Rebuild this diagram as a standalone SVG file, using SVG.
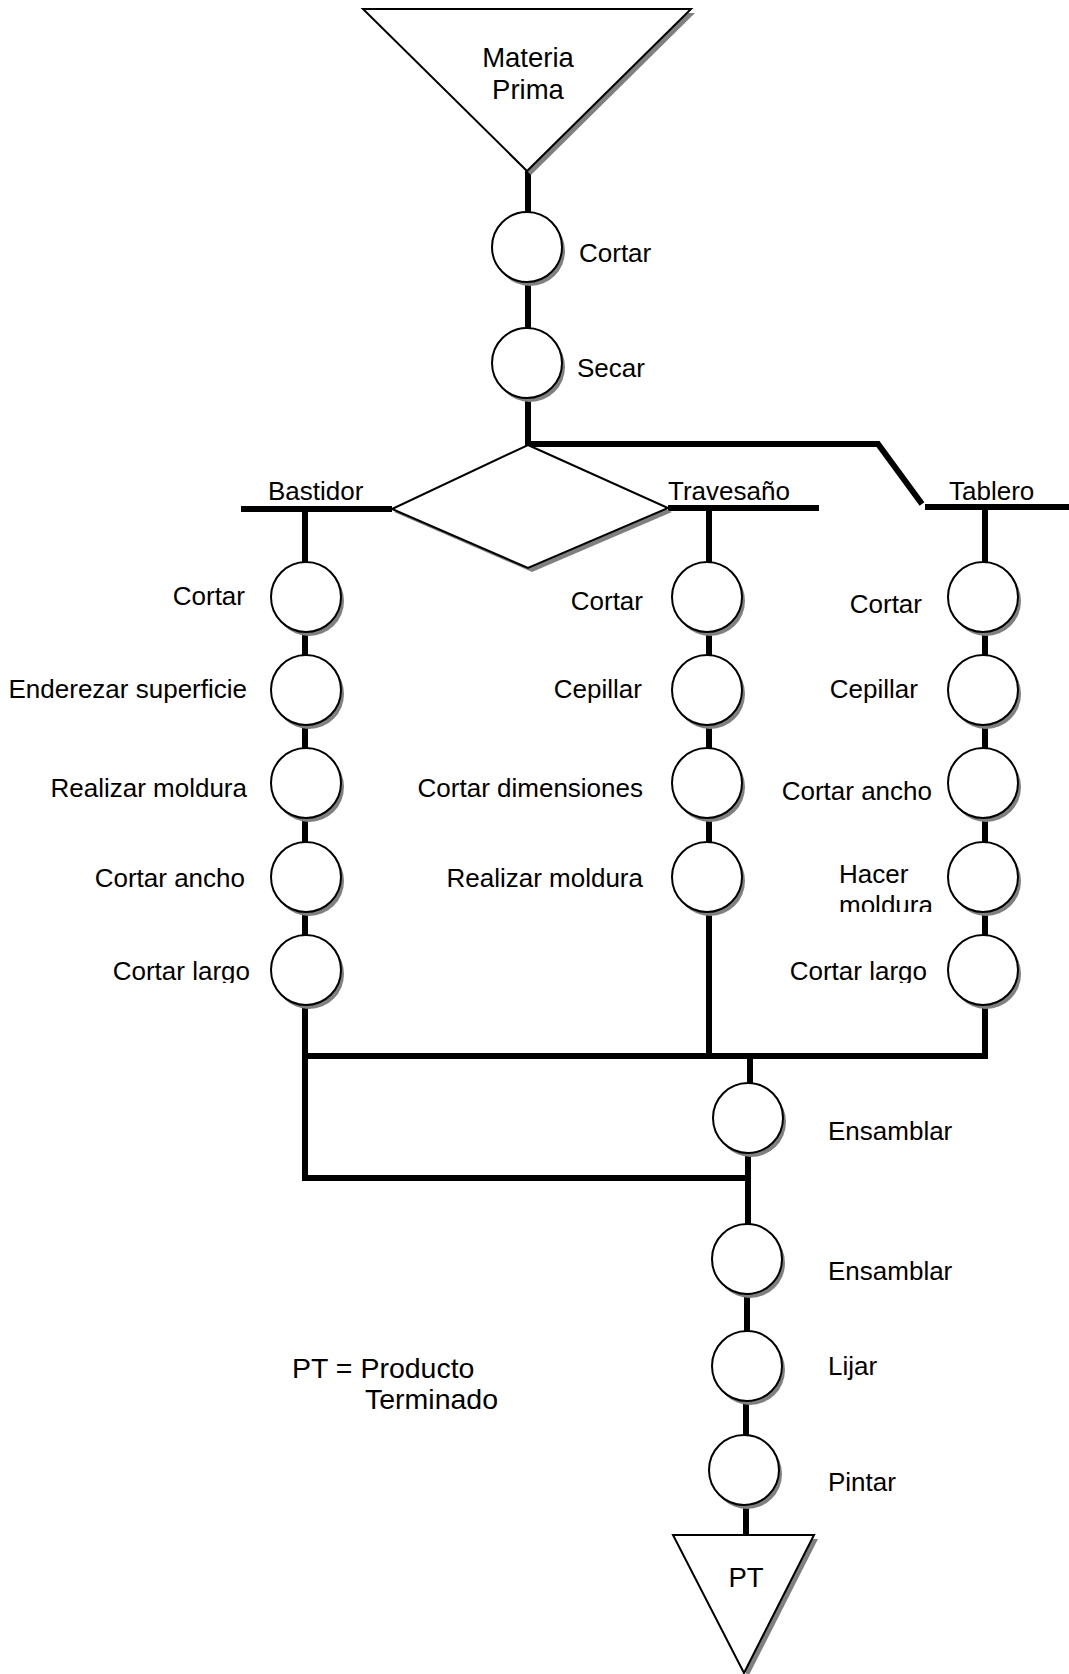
<svg xmlns="http://www.w3.org/2000/svg" width="1069" height="1674" viewBox="0 0 1069 1674">
<style>
  text { font-family: "Liberation Sans", Arial, sans-serif; font-size: 26px; fill: #000; }
  .big { font-size: 27.5px; }
  .leg { font-size: 28.5px; }
  .conn { fill: none; stroke: #000; stroke-width: 6; stroke-linejoin: miter; }
  .shape { fill: #fff; stroke: #000; stroke-width: 2; }
  .shadow { fill: #808080; stroke: none; }
  .end { text-anchor: end; }
  .mid { text-anchor: middle; }
</style>
<defs>
  <g id="op">
    <circle class="shadow" cx="3" cy="4" r="35"/>
    <circle class="shape" cx="0" cy="0" r="35"/>
  </g>
  <clipPath id="clipA"><rect x="0" y="0" width="1069" height="983"/></clipPath>
  <clipPath id="clipB"><rect x="0" y="0" width="1069" height="912"/></clipPath>
</defs>
<rect width="1069" height="1674" fill="#fff"/>

<g id="connectors">
  <path class="conn" d="M528,171 V212 M528,281 V328 M528,397 V444 H878 L922,504"/>
  <path class="conn" d="M925,507 H1069"/>
  <path class="conn" d="M241,509 H392"/>
  <path class="conn" d="M668,508 H819"/>
  <path class="conn" d="M305,509 V562 M305,632 V655 M305,725 V748 M305,818 V842 M305,912 V935"/>
  <path class="conn" d="M709,508 V562 M709,632 V655 M709,725 V748 M709,818 V842 M709,912 V1056"/>
  <path class="conn" d="M985,507 V562 M985,632 V655 M985,725 V748 M985,818 V842 M985,912 V935"/>
  <path class="conn" d="M985,1005 V1056 H305 V1178 H748"/>
  <path class="conn" d="M305,1005 V1056"/>
  <path class="conn" d="M750,1053 V1083 M748,1153 V1224 M747,1294 V1331 M746,1401 V1435 M746,1505 V1535"/>
</g>

<g id="materia-prima">
  <polygon class="shadow" points="367,13 695,13 531,175"/>
  <polygon class="shape" points="363,9 691,9 527,171"/>
  <text class="big mid" x="528" y="67">Materia</text>
  <text class="big mid" x="528" y="99">Prima</text>
</g>

<g id="op-cortar"><use href="#op" x="527" y="247"/><text x="579" y="262">Cortar</text></g>
<g id="op-secar"><use href="#op" x="527" y="363"/><text x="577" y="377">Secar</text></g>

<g id="decision">
  <polygon class="shadow" points="532,449 672,512 532,572 394,512"/>
  <polygon class="shape" points="528,445 668,508 528,568 392,509"/>
</g>

<g id="hdr-bastidor"><text x="268" y="500">Bastidor</text></g>
<g id="hdr-travesano"><text x="668" y="500">Travesaño</text></g>
<g id="hdr-tablero"><text x="949" y="500">Tablero</text></g>

<g id="b1"><use href="#op" x="306" y="597"/><text class="end" x="245" y="605">Cortar</text></g>
<g id="b2"><use href="#op" x="306" y="690"/><text class="end" x="247" y="698">Enderezar superficie</text></g>
<g id="b3"><use href="#op" x="306" y="783"/><text class="end" x="247" y="797">Realizar moldura</text></g>
<g id="b4"><use href="#op" x="306" y="877"/><text class="end" x="245" y="887">Cortar ancho</text></g>
<g id="b5"><use href="#op" x="306" y="970"/><text class="end" x="250" y="980" clip-path="url(#clipA)">Cortar largo</text></g>

<g id="t1"><use href="#op" x="707" y="597"/><text class="end" x="643" y="610">Cortar</text></g>
<g id="t2"><use href="#op" x="707" y="690"/><text class="end" x="642" y="698">Cepillar</text></g>
<g id="t3"><use href="#op" x="707" y="783"/><text class="end" x="643" y="797">Cortar dimensiones</text></g>
<g id="t4"><use href="#op" x="707" y="877"/><text class="end" x="643" y="887">Realizar moldura</text></g>

<g id="p1"><use href="#op" x="983" y="597"/><text class="end" x="922" y="613">Cortar</text></g>
<g id="p2"><use href="#op" x="983" y="690"/><text class="end" x="918" y="698">Cepillar</text></g>
<g id="p3"><use href="#op" x="983" y="783"/><text class="end" x="932" y="800">Cortar ancho</text></g>
<g id="p4"><use href="#op" x="983" y="877"/><text x="839" y="883">Hacer</text><text x="839" y="914" clip-path="url(#clipB)">moldura</text></g>
<g id="p5"><use href="#op" x="983" y="970"/><text class="end" x="927" y="980" clip-path="url(#clipA)">Cortar largo</text></g>

<g id="ensamblar1"><use href="#op" x="748" y="1118"/><text x="828" y="1140">Ensamblar</text></g>
<g id="ensamblar2"><use href="#op" x="747" y="1259"/><text x="828" y="1280">Ensamblar</text></g>
<g id="lijar"><use href="#op" x="747" y="1366"/><text x="828" y="1375">Lijar</text></g>
<g id="pintar"><use href="#op" x="744" y="1470"/><text x="828" y="1491">Pintar</text></g>

<g id="pt">
  <polygon class="shadow" points="677,1539 818,1539 748,1677"/>
  <polygon class="shape" points="673,1535 814,1535 744,1673"/>
  <text class="big mid" x="746" y="1587">PT</text>
</g>

<g id="legend">
  <text class="leg" x="292" y="1378">PT = Producto</text>
  <text class="leg" x="365" y="1409">Terminado</text>
</g>
</svg>
